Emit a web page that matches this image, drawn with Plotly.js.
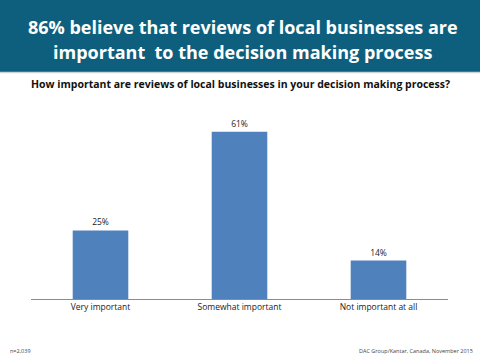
<!DOCTYPE html>
<html>
<head>
<meta charset="utf-8">
<script src="https://cdn.plot.ly/plotly-3.0.1.min.js"></script>
<style>html,body{margin:0;padding:0;background:#fff;}#chart{width:480px;height:360px;}</style>
</head>
<body>
<div id="chart"></div>
<script>
const categories = ["Very important", "Somewhat important", "Not important at all"];
const values = [25, 61, 14];
const titleLines = ["86% believe that reviews of local businesses are", "important  to the decision making process"];
const subtitle = "How important are reviews of local businesses in your decision making process?";
const sampleNote = "n=2,039";
const sourceNote = "DAC Group/Kantar, Canada, November 2015";

const W = 480, H = 360, M = {l: 31, r: 32, t: 107, b: 61};
const pw = W - M.l - M.r, ph = H - M.t - M.b;
const px = x => (x - M.l) / pw;
const py = y => (H - M.b - y) / ph;

const trace = {
  type: "bar",
  x: categories,
  y: values,
  marker: {color: "#4f81bd"},
  texttemplate: "%{y}%",
  textposition: "outside",
  textfont: {family: "Open Sans, sans-serif", size: 8.5, color: "#222"},
  cliponaxis: false,
  hoverinfo: "none"
};

const font = "Open Sans, sans-serif";
const layout = {
  width: W, height: H,
  margin: M,
  paper_bgcolor: "#fff", plot_bgcolor: "#fff",
  showlegend: false,
  bargap: 0.6,
  xaxis: {showline: true, linecolor: "#8c8c8c", linewidth: 1, ticks: "", showgrid: false,
          tickfont: {family: font, size: 8.5, color: "#222"}, fixedrange: true},
  yaxis: {range: [0, 70], visible: false, showgrid: false, zeroline: false, fixedrange: true},
  shapes: [
    {type: "rect", xref: "paper", yref: "paper", x0: px(-2), x1: px(482), y0: py(72), y1: py(-2),
     fillcolor: "#0d5f7d", line: {width: 0}, layer: "below"},
    {type: "line", xref: "paper", yref: "paper", x0: px(-2), x1: px(482), y0: py(72.5), y1: py(72.5),
     line: {color: "#c9d3d8", width: 1.5}}
  ],
  annotations: [
    {text: "<b>" + titleLines[0] + "</b>", xref: "paper", yref: "paper", x: px(243), y: py(27),
     xanchor: "center", yanchor: "middle", showarrow: false, font: {family: font, size: 18, color: "#fff"}},
    {text: "<b>" + titleLines[1] + "</b>", xref: "paper", yref: "paper", x: px(243), y: py(52),
     xanchor: "center", yanchor: "middle", showarrow: false, font: {family: font, size: 18, color: "#fff"}},
    {text: "<b>" + subtitle + "</b>", xref: "paper", yref: "paper", x: px(240), y: py(84),
     xanchor: "center", yanchor: "middle", showarrow: false, font: {family: font, size: 10.5, color: "#111"}},
    {text: sampleNote, xref: "paper", yref: "paper", x: px(8), y: py(351),
     xanchor: "left", yanchor: "middle", showarrow: false, font: {family: font, size: 5.5, color: "#444"}},
    {text: sourceNote, xref: "paper", yref: "paper", x: px(475), y: py(351),
     xanchor: "right", yanchor: "middle", showarrow: false, font: {family: font, size: 5.5, color: "#444"}}
  ]
};

Plotly.newPlot("chart", [trace], layout, {displayModeBar: false, staticPlot: true});
</script>
</body>
</html>
